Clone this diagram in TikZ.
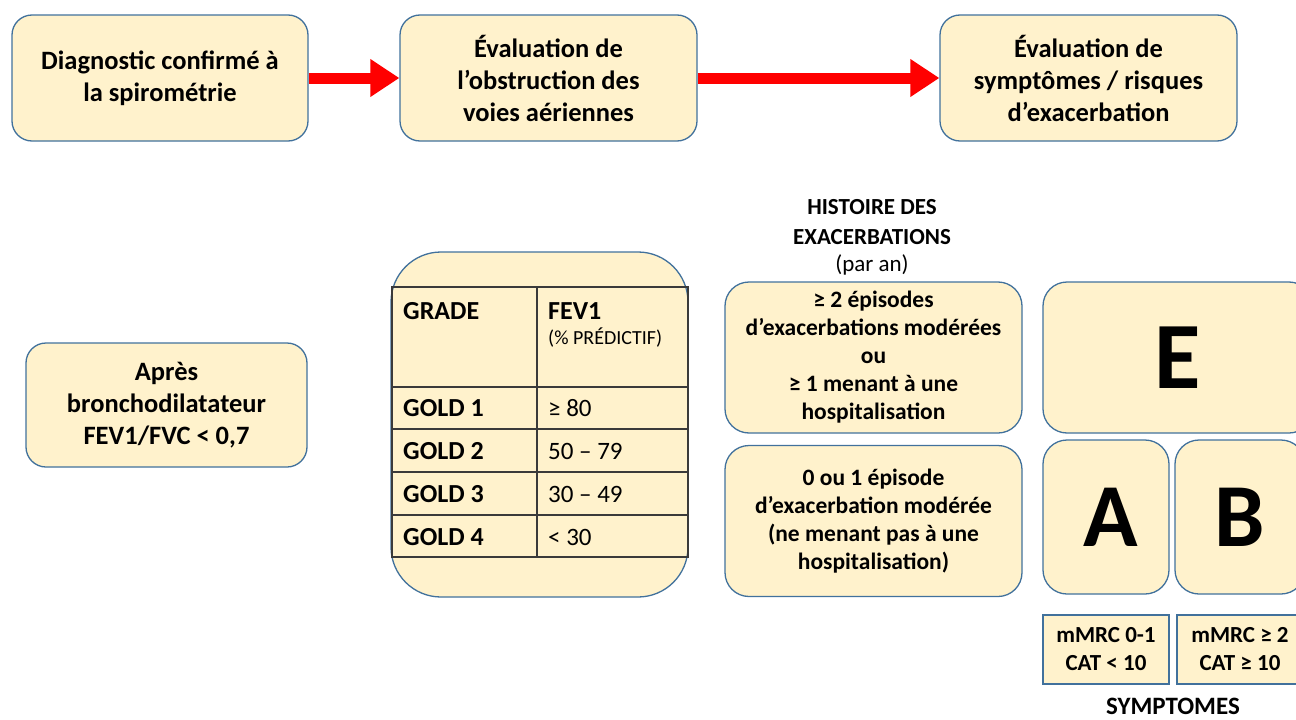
\documentclass[tikz,border=0pt]{standalone}
\usepackage{fontspec}
\setmainfont{Carlito}
\usetikzlibrary{arrows.meta, positioning}
\definecolor{boxfill}{HTML}{FFF2CC}
\definecolor{boxline}{HTML}{41719C}
\definecolor{gridline}{HTML}{3A3A3A}

\begin{document}
\begin{tikzpicture}[x=1pt, y=-1pt,
    box/.style={rectangle, draw=boxline, fill=boxfill, line width=1.3pt, rounded corners=20pt, align=center, inner sep=0pt, font=\bfseries\fontsize{26.5}{32}\selectfont},
    histbox/.style={box, minimum width=297pt, minimum height=151pt, rounded corners=24pt, font=\bfseries\fontsize{23.5}{28}\selectfont},
    group/.style={box, rounded corners=24pt, font=\bfseries\fontsize{90}{90}\selectfont},
    symbox/.style={rectangle, draw=boxline, fill=boxfill, line width=1.5pt, align=center, minimum width=126pt, minimum height=69pt, inner sep=0pt, font=\bfseries\fontsize{23}{28}\selectfont},
    cell/.style={anchor=west, inner sep=0pt, font=\fontsize{25}{28}\selectfont},
    head/.style={cell, font=\bfseries\fontsize{26}{28}\selectfont},
    flow/.style={-{Triangle[length=29pt, width=36pt]}, red, line width=11pt}
]
\useasboundingbox (0,0) rectangle (1296,720);

% top row
\node[box, minimum width=296pt, minimum height=126pt] (diag) at (160,78) {Diagnostic confirmé à\\la spirométrie};
\node[box, minimum width=297pt, minimum height=126pt] (obstr) at (548.5,78) {Évaluation de\\l’obstruction des\\voies aériennes};
\node[box, minimum width=297pt, minimum height=126pt] (sympt) at (1088.5,78) {Évaluation de\\symptômes / risques\\d’exacerbation};

\draw[flow] (diag.east) -- (obstr.west);
\draw[flow] (obstr.east) -- (sympt.west);

% spirometry
\node[box, minimum width=281pt, minimum height=124pt] (apres) at (166.5,405) {Après\\bronchodilatateur\\FEV1/FVC < 0,7};

% GOLD table
\node[box, minimum width=297pt, minimum height=345pt, rounded corners=50pt] (gold) at (539.5,424.5) {};
\draw[gridline, line width=1.6pt] (392,287) rectangle (688,557);
\draw[gridline, line width=1.6pt] (537,287) -- (537,557);
\foreach \y in {387,429,472,515}
  \draw[gridline, line width=1.6pt] (392,\y) -- (688,\y);
\node[head] (grade) at (403,311) {GRADE};
\node[head] (fev) at (548,311) {FEV1};
\node[cell, font=\fontsize{20}{22}\selectfont] (pred) at (548,338) {(\% PRÉDICTIF)};
\foreach \v [count=\k] in {≥ 80, 50 – 79, 30 – 49, < 30} {
  \node[head] (g\k) at (403,365+43*\k) {GOLD \k};
  \node[cell] (v\k) at (548,365+43*\k) {\v};
}

% exacerbation history
\node[align=center, font=\fontsize{23}{30}\selectfont] (hist) at (872,237) {\textbf{HISTOIRE DES}\\\textbf{EXACERBATIONS}\\[-3pt](par an)};
\node[histbox] (high) at (873.5,357.5) {≥ 2 épisodes\\d’exacerbations modérées\\ou\\≥ 1 menant à une\\hospitalisation};
\node[histbox] (low) at (873.5,521) {0 ou 1 épisode\\d’exacerbation modérée\\(ne menant pas à une\\hospitalisation)};

% groups
\node[group, minimum width=270pt, minimum height=151pt, font=\bfseries\fontsize{95}{95}\selectfont] (E) at (1178,357.5) {E};
\node[group, minimum width=126pt, minimum height=154pt] (A) at (1106,517) {\hspace*{10pt}A};
\node[group, minimum width=130pt, minimum height=154pt] (B) at (1240,517) {B};

% symptoms
\node[symbox] (s1) at (1106,649.5) {mMRC 0-1\\CAT < 10};
\node[symbox] (s2) at (1240,649.5) {mMRC ≥ 2\\CAT ≥ 10};
\node[font=\bfseries\fontsize{25}{26}\selectfont] (symlab) at (1173,706) {SYMPTOMES};
\end{tikzpicture}
\end{document}
